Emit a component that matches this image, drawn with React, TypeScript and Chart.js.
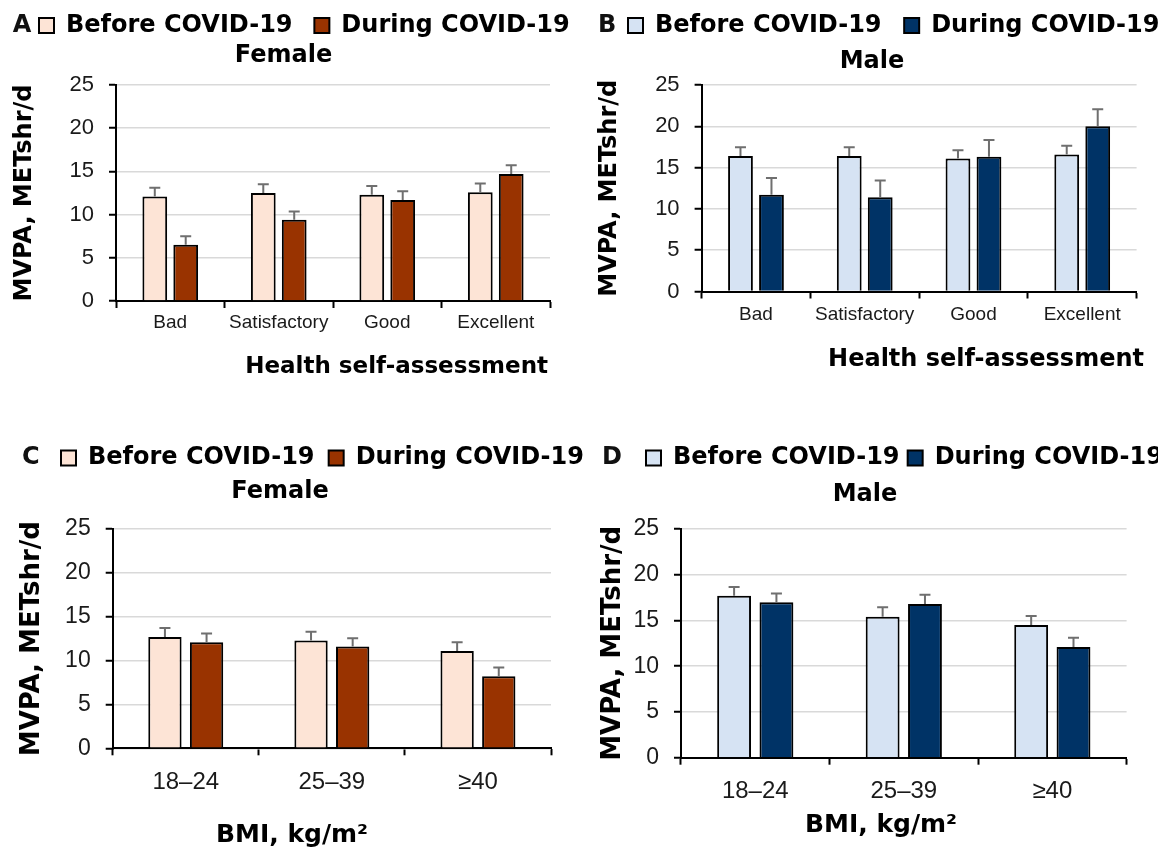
import React, { useEffect, useRef } from "react";
import { Chart, registerables } from "chart.js";

Chart.register(...registerables);
Chart.defaults.font.family = "'Liberation Sans', Arial, sans-serif";

// ---------- data ----------
const seriesLabels = ["Before COVID-19", "During COVID-19"];
const healthCategories = ["Bad", "Satisfactory", "Good", "Excellent"];
const bmiCategories = ["18–24", "25–39", "≥40"];
const yTickValues = [0, 5, 10, 15, 20, 25];

const femaleHealthBefore = [12.1, 12.5, 12.3, 12.6];
const femaleHealthBeforeErr = [1.0, 1.0, 1.0, 1.0];
const femaleHealthDuring = [6.5, 9.4, 11.7, 14.7];
const femaleHealthDuringErr = [1.0, 0.95, 1.0, 1.0];

const maleHealthBefore = [16.4, 16.4, 16.1, 16.6];
const maleHealthBeforeErr = [1.05, 1.05, 1.0, 1.05];
const maleHealthDuring = [11.7, 11.4, 16.3, 20.0];
const maleHealthDuringErr = [2.05, 2.05, 2.05, 2.05];

const femaleBmiBefore = [12.7, 12.3, 11.1];
const femaleBmiBeforeErr = [1.0, 1.0, 1.0];
const femaleBmiDuring = [12.1, 11.6, 8.2];
const femaleBmiDuringErr = [1.0, 0.95, 1.0];

const maleBmiBefore = [17.7, 15.4, 14.5];
const maleBmiBeforeErr = [0.95, 1.05, 1.0];
const maleBmiDuring = [17.0, 16.8, 12.1];
const maleBmiDuringErr = [0.95, 1.0, 1.0];

const femaleColors = ["#FDE4D6", "#993300"];
const maleColors = ["#D6E3F3", "#003366"];

const yTitleText = "MVPA, METshr/d";

// ---------- layout ----------
type PanelCfg = {
  letter: string; title: string; xTitle: string; xTitleAlign: "end" | "center";
  categories: string[]; before: number[]; during: number[]; beforeErr: number[]; duringErr: number[];
  colors: string[];
  X: number; Y: number; W: number; H: number;
  L: number; R: number; T: number; B: number;
  legendPad: number; legendBoxX: number; legendCY: number;
  titleCX: number; titleCY: number;
  xTitleX: number; xTitleCY: number; xTitleSize: number;
  xScaleH: number; xTickSize: number; xTickPad: number;
  yTickSize: number; yTitleSize: number; yTitleX: number;
  letterX: number; letterCY: number;
};

const CANVAS_W = 640;

const panels: PanelCfg[] = [
  {
    letter: "A", title: "Female", xTitle: "Health self-assessment", xTitleAlign: "end",
    categories: healthCategories, before: femaleHealthBefore, during: femaleHealthDuring,
    beforeErr: femaleHealthBeforeErr, duringErr: femaleHealthDuringErr, colors: femaleColors,
    X: 0, Y: 0, W: CANVAS_W, H: 400, L: 116, R: 550, T: 85, B: 301,
    legendPad: 21.8, legendBoxX: 39, legendCY: 25.5, titleCX: 283.5, titleCY: 55.5,
    xTitleX: 548, xTitleCY: 367.5, xTitleSize: 23, xScaleH: 33, xTickSize: 19, xTickPad: 3.6,
    yTickSize: 22, yTitleSize: 24, yTitleX: 25, letterX: 12.7, letterCY: 25.5,
  },
  {
    letter: "B", title: "Male", xTitle: "Health self-assessment", xTitleAlign: "end",
    categories: healthCategories, before: maleHealthBefore, during: maleHealthDuring,
    beforeErr: maleHealthBeforeErr, duringErr: maleHealthDuringErr, colors: maleColors,
    X: 579, Y: 0, W: CANVAS_W, H: 400, L: 122.6, R: 557.6, T: 85, B: 291.5,
    legendPad: 22.6, legendBoxX: 49, legendCY: 25.5, titleCX: 293, titleCY: 62,
    xTitleX: 565, xTitleCY: 360, xTitleSize: 24, xScaleH: 33, xTickSize: 19, xTickPad: 5.1,
    yTickSize: 22, yTitleSize: 24, yTitleX: 30.5, letterX: 19, letterCY: 25.5,
  },
  {
    letter: "C", title: "Female", xTitle: "BMI, kg/m²", xTitleAlign: "center",
    categories: bmiCategories, before: femaleBmiBefore, during: femaleBmiDuring,
    beforeErr: femaleBmiBeforeErr, duringErr: femaleBmiDuringErr, colors: femaleColors,
    X: 0, Y: 424, W: CANVAS_W, H: 424, L: 112.7, R: 551, T: 105, B: 324.3,
    legendPad: 14.1, legendBoxX: 61, legendCY: 34, titleCX: 280, titleCY: 68,
    xTitleX: 292, xTitleCY: 411, xTitleSize: 25, xScaleH: 45, xTickSize: 24, xTickPad: 12.8,
    yTickSize: 23, yTitleSize: 26, yTitleX: 32.5, letterX: 22, letterCY: 34,
  },
  {
    letter: "D", title: "Male", xTitle: "BMI, kg/m²", xTitleAlign: "center",
    categories: bmiCategories, before: maleBmiBefore, during: maleBmiDuring,
    beforeErr: maleBmiBeforeErr, duringErr: maleBmiDuringErr, colors: maleColors,
    X: 579, Y: 424, W: CANVAS_W, H: 424, L: 102, R: 547.6, T: 105, B: 333.7,
    legendPad: 8.1, legendBoxX: 67, legendCY: 34, titleCX: 286, titleCY: 71,
    xTitleX: 302, xTitleCY: 401, xTitleSize: 25, xScaleH: 45, xTickSize: 24, xTickPad: 12.6,
    yTickSize: 23, yTitleSize: 26, yTitleX: 34.3, letterX: 23, letterCY: 34,
  },
];

const boldFamily = "'DejaVu Sans', 'Liberation Sans', sans-serif";
const LEGEND_FONT = 24;
const TITLE_FONT = 24;

function Panel({ cfg }: { cfg: PanelCfg }) {
  const ref = useRef<HTMLCanvasElement>(null);

  useEffect(() => {
    const canvas = ref.current;
    if (!canvas) return;
    const errs = [cfg.beforeErr, cfg.duringErr];

    const errorBars = {
      id: "errorBars",
      afterDatasetsDraw(chart: any) {
        const { ctx } = chart;
        const y = chart.scales.y;
        ctx.save();
        ctx.strokeStyle = "#6f6f6f";
        ctx.lineWidth = 2;
        chart.data.datasets.forEach((ds: any, i: number) => {
          const meta = chart.getDatasetMeta(i);
          meta.data.forEach((el: any, j: number) => {
            const v = ds.data[j] as number;
            const top = y.getPixelForValue(v + errs[i][j]);
            ctx.beginPath();
            ctx.moveTo(el.x, el.y);
            ctx.lineTo(el.x, top);
            ctx.moveTo(el.x - 5.5, top);
            ctx.lineTo(el.x + 5.5, top);
            ctx.stroke();
          });
        });
        ctx.restore();
      },
    };

    const placeText = {
      id: "placeText",
      afterLayout(chart: any) {
        const lg = chart.legend;
        if (lg) {
          const w = lg.width, h = lg.height;
          lg.left = cfg.legendBoxX - cfg.legendPad;
          lg.right = lg.left + w;
          lg.top = cfg.legendCY - cfg.legendPad - LEGEND_FONT / 2;
          lg.bottom = lg.top + h;
        }
        for (const b of chart.boxes) {
          if (b === lg) continue;
          const o = b.options;
          if (!o) continue;
          if (o.text === cfg.title && b.position === "top") {
            b.left = cfg.titleCX - 280;
            b.right = cfg.titleCX + 280;
            b.top = cfg.titleCY - TITLE_FONT / 2;
            b.bottom = b.top + TITLE_FONT;
          } else if (o.text === cfg.xTitle && b.position === "bottom") {
            if (cfg.xTitleAlign === "end") {
              b.right = cfg.xTitleX;
              b.left = cfg.xTitleX - 560;
            } else {
              b.left = cfg.xTitleX - 280;
              b.right = cfg.xTitleX + 280;
            }
            b.top = cfg.xTitleCY - cfg.xTitleSize / 2;
            b.bottom = b.top + cfg.xTitleSize;
          }
        }
      },
    };

    const panelLetter = {
      id: "panelLetter",
      afterDraw(chart: any) {
        const { ctx } = chart;
        ctx.save();
        ctx.font = `bold 24px ${boldFamily}`;
        ctx.fillStyle = "#111";
        ctx.textAlign = "left";
        ctx.textBaseline = "middle";
        ctx.fillText(cfg.letter, cfg.letterX, cfg.letterCY);
        ctx.restore();
      },
    };

    const padTop = cfg.T - (LEGEND_FONT + cfg.legendPad + 10) - TITLE_FONT;
    const padBottom = cfg.H - cfg.B - cfg.xScaleH - cfg.xTitleSize;

    const chart = new Chart(canvas, {
      type: "bar",
      data: {
        labels: cfg.categories,
        datasets: [
          {
            label: seriesLabels[0], data: cfg.before, backgroundColor: cfg.colors[0],
            borderColor: "#000", borderWidth: 2, categoryPercentage: 0.57, barPercentage: 0.8,
            xAxisID: "x", yAxisID: "y",
          },
          {
            label: seriesLabels[1], data: cfg.during, backgroundColor: cfg.colors[1],
            borderColor: "#000", borderWidth: 2, categoryPercentage: 0.57, barPercentage: 0.8,
            xAxisID: "x", yAxisID: "y",
          },
        ],
      },
      options: {
        responsive: false,
        animation: false,
        devicePixelRatio: 1,
        events: [],
        layout: { padding: { left: 0, right: 0, top: padTop, bottom: padBottom } },
        scales: {
          x: {
            type: "category",
            offset: true,
            grid: {
              offset: true, drawOnChartArea: false, drawTicks: true, tickLength: 7,
              tickColor: "#000", tickWidth: 2, color: "#000",
            },
            border: { display: true, color: "#000", width: 2 },
            ticks: {
              font: { family: "'Liberation Sans', Arial, sans-serif", size: cfg.xTickSize },
              color: "#1a1a1a", padding: cfg.xTickPad, maxRotation: 0, minRotation: 0, autoSkip: false,
            },
            afterFit: (s: any) => { s.height = cfg.xScaleH; },
          },
          y: {
            min: yTickValues[0],
            max: yTickValues[yTickValues.length - 1],
            ticks: {
              stepSize: yTickValues[1] - yTickValues[0],
              font: { family: "'Liberation Sans', Arial, sans-serif", size: cfg.yTickSize },
              color: "#1a1a1a", padding: 15,
            },
            grid: { color: "#d9d9d9", lineWidth: 1.5, tickColor: "#000", tickLength: 7, tickWidth: 2 },
            border: { display: true, color: "#000", width: 2 },
            title: {
              display: true, text: yTitleText, color: "#000",
              font: { family: boldFamily, weight: "bold", size: cfg.yTitleSize, lineHeight: 1 },
              padding: { top: cfg.yTitleX - cfg.yTitleSize / 2, bottom: 0 },
            },
            afterFit: (s: any) => { s.width = cfg.L; },
          },
          // empty spacer axis on the right, reserves the blank margin right of the plot
          spacer: {
            type: "linear", axis: "y", position: "right", display: true,
            grid: { display: false, drawTicks: false }, border: { display: false },
            ticks: { display: false },
            afterFit: (s: any) => { s.width = cfg.W - cfg.R; },
          },
        },
        plugins: {
          legend: {
            display: true, position: "top", align: "start", weight: 3000,
            labels: {
              boxWidth: 15, boxHeight: 15, padding: cfg.legendPad, color: "#000",
              font: { family: boldFamily, weight: "bold", size: LEGEND_FONT },
            },
          },
          title: {
            display: true, text: cfg.title, color: "#000", padding: 0,
            font: { family: boldFamily, weight: "bold", size: TITLE_FONT, lineHeight: 1 },
          },
          subtitle: {
            display: true, text: cfg.xTitle, position: "bottom", align: cfg.xTitleAlign, color: "#000", padding: 0,
            font: { family: boldFamily, weight: "bold", size: cfg.xTitleSize, lineHeight: 1 },
          },
          tooltip: { enabled: false },
        },
      } as any,
      plugins: [errorBars, placeText, panelLetter],
    });

    return () => chart.destroy();
  }, [cfg]);

  return (
    <canvas
      ref={ref}
      width={cfg.W}
      height={cfg.H}
      style={{ position: "absolute", left: cfg.X, top: cfg.Y, width: cfg.W, height: cfg.H }}
    />
  );
}

export default function App() {
  return (
    <div style={{ position: "absolute", left: 0, top: 0, width: 1158, height: 848, background: "#fff", overflow: "hidden" }}>
      {panels.map((p) => (
        <Panel key={p.letter} cfg={p} />
      ))}
    </div>
  );
}
